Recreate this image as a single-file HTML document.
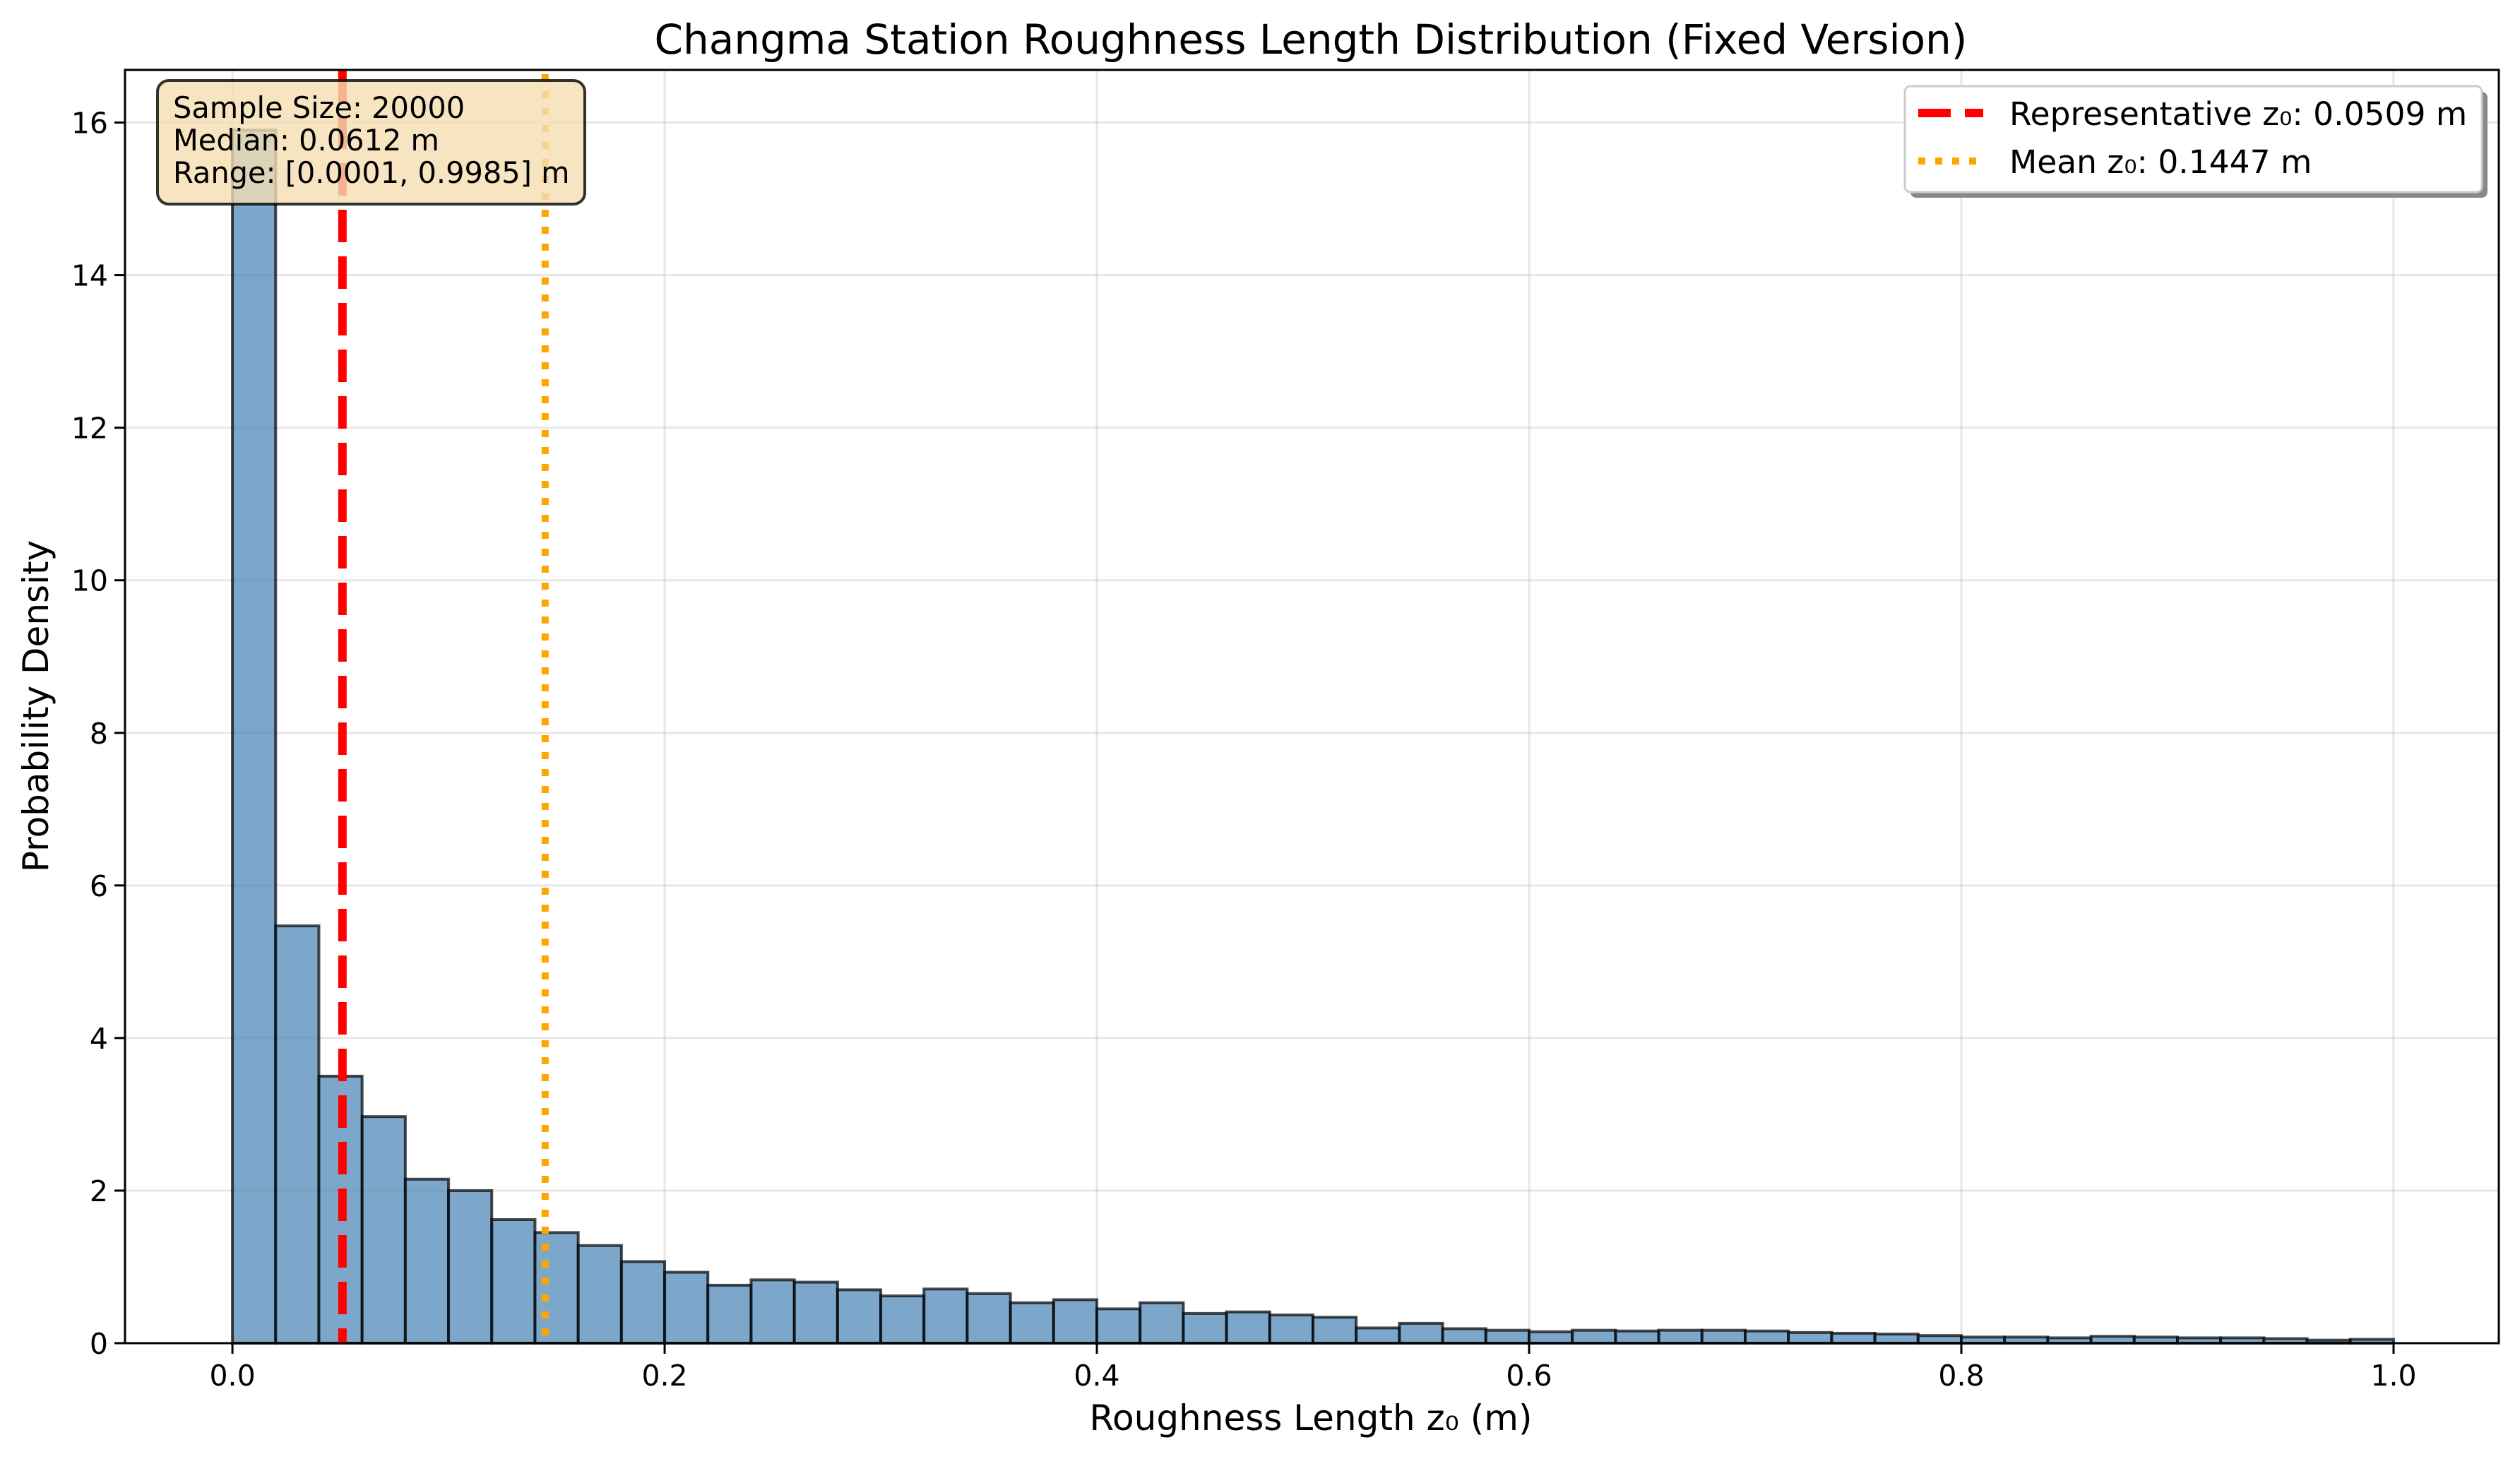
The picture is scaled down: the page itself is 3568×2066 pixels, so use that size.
<!DOCTYPE html>
<html><head><meta charset="utf-8"><style>
html,body{margin:0;padding:0;background:#fff;}
svg{display:block;font-family:"DejaVu Sans","Liberation Sans",sans-serif;}
</style></head><body>
<svg id="chart" width="3568" height="2066" viewBox="0 0 3568 2066" xmlns="http://www.w3.org/2000/svg">
<rect width="3568" height="2066" fill="#fff"/>
<g id="grid"></g>
<g id="bars"></g>
<g id="refs"></g>
<rect x="177" y="99" width="3361" height="1803" fill="none" stroke="#000" stroke-width="3"/>
<g id="ticks"></g>
<text x="1856" y="76" font-size="58" text-anchor="middle">Changma Station Roughness Length Distribution (Fixed Version)</text>
<text x="1856" y="2025" font-size="50" text-anchor="middle">Roughness Length z₀ (m)</text>
<text transform="translate(68,1000) rotate(-90)" font-size="50" text-anchor="middle">Probability Density</text>
<g>
<rect x="223" y="114" width="605" height="175" rx="16" fill="#f5deb3" fill-opacity="0.8" stroke="#000" stroke-opacity="0.8" stroke-width="4"/>
<text x="245" y="167" font-size="41.5">Sample Size: 20000</text>
<text x="245" y="213" font-size="41.5">Median: 0.0612 m</text>
<text x="245" y="259" font-size="41.5">Range: [0.0001, 0.9985] m</text>
</g>
<g>
<rect x="2705" y="130" width="817" height="150" rx="8" fill="#888"/>
<rect x="2697" y="122" width="817" height="150" rx="8" fill="#fff" stroke="#ccc" stroke-width="3"/>
<g>
<line x1="2716" y1="160" x2="2808" y2="160" stroke="red" stroke-width="12" stroke-dasharray="46,20"/>
<text x="2845" y="177" font-size="45.5">Representative z₀: 0.0509 m</text>
</g>
<g>
<line x1="2716" y1="228" x2="2808" y2="228" stroke="orange" stroke-width="10" stroke-dasharray="10,14"/>
<text x="2845" y="245" font-size="45.5">Mean z₀: 0.1447 m</text>
</g>
</g>
<script>
const binEdgesStart = 0;
const binWidth = 0.02;
const densities = [15.9,5.47,3.5,2.97,2.15,2.0,1.62,1.45,1.28,1.07,0.93,0.76,0.83,0.80,0.70,0.62,0.71,0.65,0.53,0.57,0.45,0.53,0.39,0.41,0.37,0.34,0.20,0.26,0.19,0.17,0.15,0.17,0.16,0.17,0.17,0.16,0.14,0.13,0.12,0.10,0.08,0.08,0.07,0.09,0.08,0.07,0.07,0.06,0.04,0.05];
const xTicks = [0,0.2,0.4,0.6,0.8,1.0];
const xTickLabels = ["0.0","0.2","0.4","0.6","0.8","1.0"];
const yTicks = [0,2,4,6,8,10,12,14,16];
const representativeZ0 = 0.0509;
const meanZ0 = 0.1447;

const NS="http://www.w3.org/2000/svg";
const X0=177,X1=3538,Y0=1902,Y1=99;
const xMin=-0.0497,xMax=1.0487,yMin=0,yMax=16.69;
const xs=v=>X0+(v-xMin)/(xMax-xMin)*(X1-X0);
const ys=v=>Y0-(v-yMin)/(yMax-yMin)*(Y0-Y1);
function mk(tag,attrs,parent){const e=document.createElementNS(NS,tag);for(const k in attrs)e.setAttribute(k,attrs[k]);parent.appendChild(e);return e;}
const grid=document.getElementById('grid'),bars=document.getElementById('bars'),refs=document.getElementById('refs'),ticks=document.getElementById('ticks');
xTicks.forEach((t,i)=>{
  const g=mk('line',{x1:xs(t),x2:xs(t),y1:Y1,y2:Y0,stroke:'#b0b0b0','stroke-opacity':0.3,'stroke-width':3},grid);
  
  
  const tk=mk('line',{x1:xs(t),x2:xs(t),y1:Y0,y2:Y0+15,stroke:'#000','stroke-width':3},ticks);
  
  
  const tl=mk('text',{x:xs(t),y:1962,'font-size':41,'text-anchor':'middle'},ticks);
  tl.textContent=xTickLabels[i];
  
  
});
yTicks.forEach(t=>{
  const g=mk('line',{x1:X0,x2:X1,y1:ys(t),y2:ys(t),stroke:'#b0b0b0','stroke-opacity':0.3,'stroke-width':3},grid);
  
  
  const tk=mk('line',{x1:X0-15,x2:X0,y1:ys(t),y2:ys(t),stroke:'#000','stroke-width':3},ticks);
  
  
  const tl=mk('text',{x:X0-24,y:ys(t)+15,'font-size':41,'text-anchor':'end'},ticks);
  tl.textContent=String(t);
  
  
});
densities.forEach((d,i)=>{
  const a=binEdgesStart+i*binWidth,b=a+binWidth;
  const r=mk('rect',{x:xs(a),y:ys(d),width:xs(b)-xs(a),height:ys(0)-ys(d),fill:'#4682b4','fill-opacity':0.7,stroke:'#000','stroke-opacity':0.7,'stroke-width':4},bars);
  
  
});
const rl=mk('line',{x1:xs(representativeZ0),x2:xs(representativeZ0),y1:Y1,y2:Y0,stroke:'red','stroke-width':12,'stroke-dasharray':'46,20'},refs);


const ml=mk('line',{x1:xs(meanZ0),x2:xs(meanZ0),y1:Y1+6,y2:Y0,stroke:'orange','stroke-width':10,'stroke-dasharray':'10,14'},refs);


</script>
</svg>
</body></html>
